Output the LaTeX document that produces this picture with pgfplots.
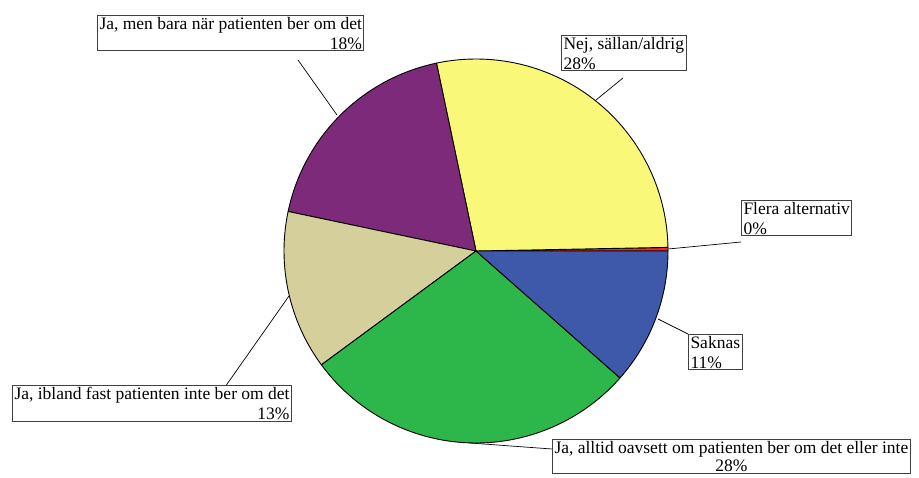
\documentclass[border=0pt]{standalone}
\usepackage{pgfplots}
\usepackage{pgfplotstable}
\pgfplotsset{compat=1.18}
\usepackage{fontspec}
\setmainfont{Liberation Serif}
\definecolor{cRed}{RGB}{232,44,44}
\definecolor{cYellow}{RGB}{250,248,120}
\definecolor{cPurple}{RGB}{125,42,123}
\definecolor{cTan}{RGB}{212,207,155}
\definecolor{cGreen}{RGB}{45,183,74}
\definecolor{cBlue}{RGB}{62,88,170}
\pgfplotstableread[col sep=comma]{
name,value,col
Flera alternativ,0.3,cRed
Nej sallan/aldrig,28.0,cYellow
Ja men bara nar,18.4,cPurple
Ja ibland,13.4,cTan
Ja alltid,28.4,cGreen
Saknas,11.5,cBlue
}\piedata
\begin{document}
\begin{tikzpicture}
\clip (0,0) rectangle (919pt,477pt);
\begin{axis}[
  at={(0,0)}, anchor=south west,
  width=919pt, height=477pt, scale only axis,
  hide axis, clip=false,
  xmin=0, xmax=919, ymin=0, ymax=477, y dir=reverse,
]
\pgfplotstablegetrowsof{\piedata}
\pgfmathtruncatemacro\N{\pgfplotsretval-1}
\def\cum{0}
\pgfplotsforeachungrouped \i in {0,...,\N}{%
  \pgfplotstablegetelem{\i}{value}\of\piedata \let\v\pgfplotsretval
  \pgfplotstablegetelem{\i}{col}\of\piedata \let\c\pgfplotsretval
  \pgfmathsetmacro\a{\cum*3.6}%
  \pgfmathsetmacro\b{(\cum+\v)*3.6}%
  \edef\temp{\noexpand\filldraw[fill=\c, draw=black, line width=0.9pt, line join=round]
    (axis cs:476,251) -- ++(\a:192pt) arc[start angle=\a, end angle=\b, radius=192pt] -- cycle;}%
  \temp
  \pgfmathsetmacro\cum{\cum+\v}%
}
% leader lines
\draw[black, line width=0.7pt] (axis cs:337,115) -- (axis cs:298,60);
\draw[black, line width=0.7pt] (axis cs:596,100) -- (axis cs:623,78);
\draw[black, line width=0.7pt] (axis cs:668,249) -- (axis cs:741,242);
\draw[black, line width=0.7pt] (axis cs:658,319) -- (axis cs:688,334);
\draw[black, line width=0.7pt] (axis cs:289,296) -- (axis cs:225,387);
\draw[black, line width=0.7pt] (axis cs:470,443) -- (axis cs:552,449);
% label boxes
\tikzset{lbl/.style={draw=black!75, line width=1pt, fill=white, anchor=north west,
  inner xsep=2pt, inner ysep=1.5pt, font=\fontsize{17.5}{20}\selectfont}}
\node[lbl, align=right] at (axis cs:97,15) {Ja, men bara när patienten ber om det\\18\%};
\node[lbl, align=left] at (axis cs:561,35) {Nej, sällan/aldrig\\28\%};
\node[lbl, align=left] at (axis cs:741,200) {Flera alternativ\\0\%};
\node[lbl, align=left] at (axis cs:688,334) {Saknas\\11\%};
\node[lbl, align=right] at (axis cs:12,385) {Ja, ibland fast patienten inte ber om det\\13\%};
\node[lbl, align=center, font=\fontsize{17.5}{18.5}\selectfont] at (axis cs:552,439) {Ja, alltid oavsett om patienten ber om det eller inte\\28\%};
\end{axis}
\end{tikzpicture}
\end{document}
